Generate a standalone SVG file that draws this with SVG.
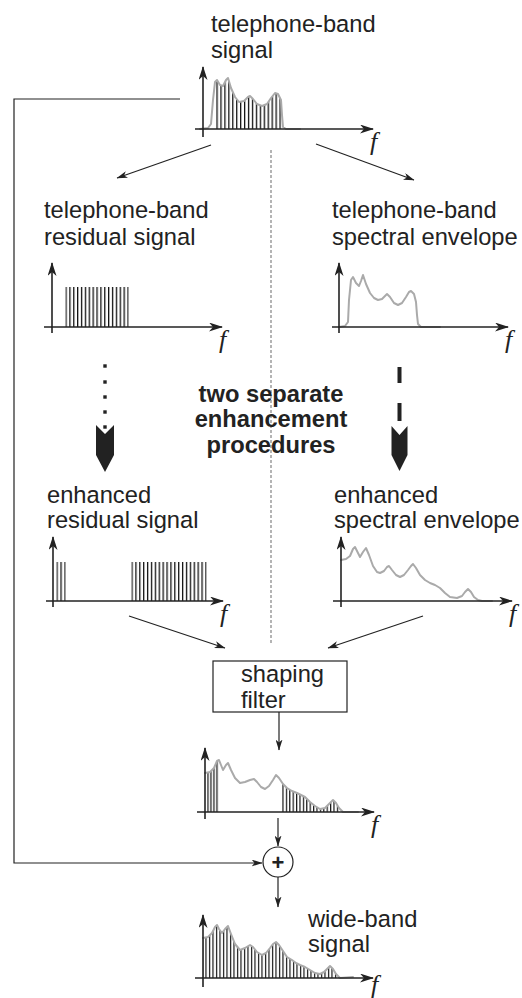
<svg xmlns="http://www.w3.org/2000/svg" width="522" height="998" viewBox="0 0 522 998">
<style>
.lbl{font-family:"Liberation Sans",Arial,sans-serif;font-size:23.7px;fill:#222}
.bold{font-family:"Liberation Sans",Arial,sans-serif;font-size:23.7px;font-weight:bold;fill:#222;text-anchor:middle}
.f{font-family:"Liberation Serif","Times New Roman",serif;font-style:italic;font-size:26px;fill:#222}
.axis{stroke:#222;stroke-width:1.6;fill:none;marker-end:url(#ax)}
.env{stroke:#aaa;stroke-width:2;fill:none;stroke-linejoin:round;stroke-linecap:round}
.con{stroke:#222;stroke-width:1.2;fill:none}
.arr{marker-end:url(#ar)}
.big{fill:#222}
</style>
<defs>
<marker id="ax" viewBox="0 0 14 9" refX="13" refY="4.5" markerWidth="14" markerHeight="9" markerUnits="userSpaceOnUse" orient="auto"><path d="M0,0 L14,4.5 L0,9 L4,4.5 z" fill="#222"/></marker>
<marker id="ar" viewBox="0 0 11 7" refX="10.5" refY="3.5" markerWidth="11" markerHeight="7" markerUnits="userSpaceOnUse" orient="auto"><path d="M0,0 L11,3.5 L0,7 L3,3.5 z" fill="#222"/></marker>
<pattern id="pTop" x="216.4" y="0" width="3.94" height="998" patternUnits="userSpaceOnUse"><rect width="1.3" height="998" fill="#111"/></pattern>
<pattern id="pL2" x="65.4" y="0" width="3.875" height="998" patternUnits="userSpaceOnUse"><rect width="1.3" height="998" fill="#111"/></pattern>
<pattern id="pL3a" x="56.4" y="0" width="4" height="998" patternUnits="userSpaceOnUse"><rect width="1.3" height="998" fill="#111"/></pattern>
<pattern id="pL3b" x="131.4" y="0" width="3.89" height="998" patternUnits="userSpaceOnUse"><rect width="1.3" height="998" fill="#111"/></pattern>
<pattern id="pMa" x="207.4" y="0" width="3" height="998" patternUnits="userSpaceOnUse"><rect width="1.2" height="998" fill="#111"/></pattern>
<pattern id="pMb" x="282.4" y="0" width="3.4" height="998" patternUnits="userSpaceOnUse"><rect width="1.2" height="998" fill="#111"/></pattern>
<pattern id="pBot" x="205.4" y="0" width="3.5" height="998" patternUnits="userSpaceOnUse"><rect width="1.2" height="998" fill="#111"/></pattern>
<clipPath id="cTop"><rect x="216" y="60" width="65.5" height="70"/></clipPath>
<clipPath id="cMa"><rect x="207" y="740" width="12" height="73"/></clipPath>
<clipPath id="cMb"><rect x="282" y="740" width="57" height="73"/></clipPath>
</defs>

<g id="connectors">
<polyline class="con arr" points="180,99 14,99 14,863 262,863"/>
<line class="con arr" x1="211" y1="145" x2="117" y2="178"/>
<line class="con arr" x1="316" y1="144" x2="414" y2="180"/>
<line x1="271" y1="150" x2="271" y2="643" stroke="#777" stroke-width="1.1" stroke-dasharray="3,2"/>
<line class="con arr" x1="129" y1="616" x2="225" y2="648"/>
<line class="con arr" x1="423" y1="616" x2="328" y2="648"/>
<line class="con arr" x1="279" y1="712" x2="279" y2="750"/>
<line class="con arr" x1="278" y1="818" x2="278" y2="846"/>
<line class="con arr" x1="278" y1="877" x2="278" y2="907"/>
<g id="dotted-arrow">
<rect class="big" x="103.3" y="364.3" width="3.4" height="3.4"/>
<rect class="big" x="103.3" y="380.3" width="3.4" height="3.4"/>
<rect class="big" x="103.3" y="395.3" width="3.4" height="3.4"/>
<rect class="big" x="103.3" y="410.3" width="3.4" height="3.4"/>
<rect class="big" x="103.3" y="425.3" width="3.4" height="3.4"/>
<polygon class="big" points="96,425 105,434 114,425 114,455 105,472 96,455"/>
</g>
<g id="dashed-arrow">
<rect class="big" x="397.5" y="367" width="4" height="16"/>
<rect class="big" x="397.5" y="403" width="4" height="18"/>
<polygon class="big" points="391.5,426 399.5,435 407.5,426 407.5,455 399.5,471 391.5,455"/>
</g>
</g>

<g id="telephone-band-signal">
<text class="lbl" x="211" y="32">telephone-band</text>
<text class="lbl" x="211" y="58">signal</text>
<polygon fill="url(#pTop)" clip-path="url(#cTop)" points="208,128 211,124 213,100 215,82 217,80 220,85 223,86 226,80 228,78 231,88 235,97 239,102 244,101 248,97 250,96 253,99 257,104 262,106 267,104 271,98 275,93 278,94 281,100 282,115 283,127 286,129 205,129"/>
<polyline class="env" points="200,129 208,128 211,124 213,100 215,82 217,80 220,85 223,86 226,80 228,78 231,88 235,97 239,102 244,101 248,97 250,96 253,99 257,104 262,106 267,104 271,98 275,93 278,94 281,100 282,115 283,127 286,129 300,129"/>
<line class="axis" x1="203" y1="137" x2="203" y2="67"/>
<line class="axis" x1="195" y1="129" x2="373" y2="129"/>
<text class="f" x="370" y="150">f</text>
</g>

<g id="residual-signal">
<text class="lbl" x="44" y="218">telephone-band</text>
<text class="lbl" x="44" y="245">residual signal</text>
<rect fill="url(#pL2)" x="65.4" y="287" width="63.3" height="40"/>
<line class="axis" x1="52" y1="333" x2="52" y2="263"/>
<line class="axis" x1="44" y1="327" x2="222" y2="327"/>
<text class="f" x="219" y="348">f</text>
</g>

<g id="spectral-envelope">
<text class="lbl" x="332" y="218">telephone-band</text>
<text class="lbl" x="332" y="245">spectral envelope</text>
<polyline class="env" points="339,327 345,326 348,322 349,300 351,280 353,277 356,283 359,286 361,281 363,275 366,284 370,293 374,298 378,300 382,299 385,296 387,294 390,297 394,303 398,305 402,303 406,297 409,292 411,291 414,294 416,302 417,315 418,324 421,327 440,327"/>
<line class="axis" x1="339" y1="333" x2="339" y2="263"/>
<line class="axis" x1="332" y1="327" x2="508" y2="327"/>
<text class="f" x="505" y="348">f</text>
</g>

<g id="enhancement-label">
<text class="bold" x="271" y="402">two separate</text>
<text class="bold" x="271" y="427">enhancement</text>
<text class="bold" x="271" y="453">procedures</text>
</g>

<g id="enhanced-residual">
<text class="lbl" x="47" y="503">enhanced</text>
<text class="lbl" x="47" y="528">residual signal</text>
<rect fill="url(#pL3a)" x="56.4" y="562" width="9.3" height="39"/>
<rect fill="url(#pL3b)" x="131.4" y="562" width="75.2" height="39"/>
<line class="axis" x1="53" y1="607" x2="53" y2="537"/>
<line class="axis" x1="46" y1="601" x2="223" y2="601"/>
<text class="f" x="220" y="622">f</text>
</g>

<g id="enhanced-envelope">
<text class="lbl" x="334" y="503">enhanced</text>
<text class="lbl" x="334" y="528">spectral envelope</text>
<polyline class="env" points="341,560 346,559 350,556 353,549 355,547 357,551 360,557 363,552 366,548 369,555 373,566 377,572 380,573 384,571 387,567 389,566 392,570 396,575 400,577 404,575 408,570 411,566 413,564 416,568 420,575 425,580 430,583 435,585 440,588 445,593 450,597 457,598 462,596 465,592 468,589 471,592 474,597 478,600 482,601 492,601"/>
<line class="axis" x1="341" y1="607" x2="341" y2="537"/>
<line class="axis" x1="333" y1="601" x2="512" y2="601"/>
<text class="f" x="509" y="622">f</text>
</g>

<g id="shaping-filter">
<rect x="213" y="661" width="134" height="51" fill="#fff" stroke="#222" stroke-width="1.2"/>
<text class="lbl" x="241" y="682">shaping</text>
<text class="lbl" x="241" y="708">filter</text>
</g>

<g id="shaped-signal">
<polygon fill="url(#pMa)" clip-path="url(#cMa)" points="205,773 210,772 214,768 217,761 219,760 221,765 223,770 226,765 228,763 231,770 235,778 240,783 240,812 205,812"/>
<polygon fill="url(#pMb)" clip-path="url(#cMb)" points="276,775 279,778 283,784 287,788 292,791 297,793 301,795 305,797 310,802 315,806 320,809 325,808 329,804 333,800 336,803 339,808 343,812 276,812"/>
<polyline class="env" points="205,773 210,772 214,768 217,761 219,760 221,765 223,770 226,765 228,763 231,770 235,778 240,783 245,782 250,780 254,779 257,782 261,787 265,789 269,786 273,780 276,775 279,778 283,784 287,788 292,791 297,793 301,795 305,797 310,802 315,806 320,809 325,808 329,804 333,800 336,803 339,808 343,812 358,812"/>
<line class="axis" x1="205" y1="819" x2="205" y2="748"/>
<line class="axis" x1="197" y1="812" x2="374" y2="812"/>
<text class="f" x="371" y="833">f</text>
</g>

<g id="sum">
<circle cx="278" cy="862" r="15" fill="#fff" stroke="#222" stroke-width="1.2"/>
<text x="278" y="870" text-anchor="middle" font-family="Liberation Sans, Arial, sans-serif" font-size="22" font-weight="bold" fill="#222">+</text>
</g>

<g id="wide-band-signal">
<text class="lbl" x="308" y="927">wide-band</text>
<text class="lbl" x="308" y="952">signal</text>
<polygon fill="url(#pBot)" points="203,938 208,937 212,933 215,927 217,925 219,929 222,933 225,929 228,926 231,934 235,944 240,950 245,948 250,945 253,947 257,952 262,955 266,953 270,948 273,944 276,942 279,945 283,951 287,957 292,960 296,963 300,965 305,967 310,970 315,973 320,974 324,972 327,969 330,966 333,969 336,974 340,978 203,978"/>
<polyline class="env" points="203,938 208,937 212,933 215,927 217,925 219,929 222,933 225,929 228,926 231,934 235,944 240,950 245,948 250,945 253,947 257,952 262,955 266,953 270,948 273,944 276,942 279,945 283,951 287,957 292,960 296,963 300,965 305,967 310,970 315,973 320,974 324,972 327,969 330,966 333,969 336,974 340,978 353,977"/>
<line class="axis" x1="203" y1="987" x2="203" y2="915"/>
<line class="axis" x1="195" y1="978" x2="373" y2="978"/>
<text class="f" x="371" y="993">f</text>
</g>
</svg>
